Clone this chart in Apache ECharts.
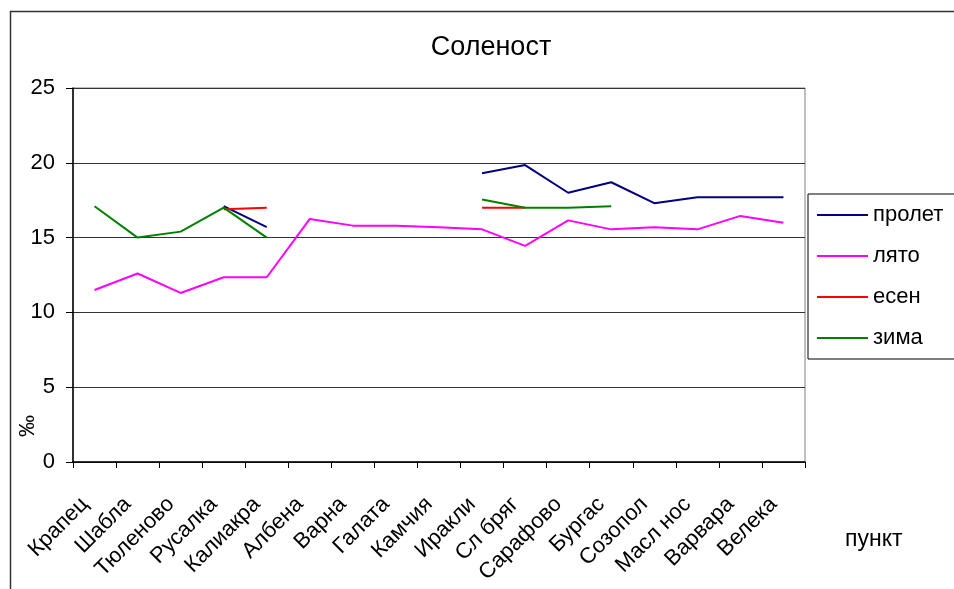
<!DOCTYPE html>
<html>
<head>
<meta charset="utf-8">
<title>Соленост</title>
<script src="https://cdn.jsdelivr.net/npm/echarts@6/dist/echarts.min.js"></script>
<style>
	html, body { margin: 0; padding: 0; background: #fff; }
	#chart { width: 954px; height: 589px; }
</style>
</head>
<body>
<div id="chart"></div>
<script>
// пунктове по брега
var places = ['Крапец', 'Шабла', 'Тюленово', 'Русалка', 'Калиакра', 'Албена', 'Варна', 'Галата', 'Камчия',
	'Иракли', 'Сл бряг', 'Сарафово', 'Бургас', 'Созопол', 'Масл нос', 'Варвара', 'Велека'];
var seasonNames = ['пролет', 'лято', 'есен', 'зима'];
var seasonColors = ['#000080', '#ff00ff', '#ff0000', '#008000'];

// соленост, ‰
var spring = [null, null, null, 17.1, 15.7, null, null, null, null, 19.3, 19.85, 18.0, 18.7, 17.3, 17.7, 17.7, 17.7];
var summer = [11.5, 12.6, 11.3, 12.35, 12.35, 16.25, 15.8, 15.8, 15.7, 15.55, 14.45, 16.15, 15.55, 15.7, 15.55, 16.45, 16.0];
var autumn = [null, null, null, 16.9, 17.0, null, null, null, null, 17.0, 17.0, null, null, null, null, null, null];
var winter = [17.1, 15.0, 15.4, 17.0, 15.0, null, null, null, null, 17.55, 17.0, 17.0, 17.1, null, null, null, null];

var yTicks = [0, 5, 10, 15, 20, 25];

var font = 'Liberation Sans, Arial, sans-serif';
var seriesData = [spring, summer, autumn, winter];

var series = seriesData.map(function (d, i) {
	return {
		name: seasonNames[i],
		type: 'line',
		data: d,
		symbol: 'none',
		connectNulls: false,
		lineStyle: { color: seasonColors[i], width: 2 },
		itemStyle: { color: seasonColors[i] }
	};
});

var option = {
	backgroundColor: '#fff',
	animation: false,
	title: {
		text: 'Соленост',
		left: 486,
		textAlign: 'center',
		top: 29,
		textStyle: { fontFamily: font, fontSize: 27, fontWeight: 'normal', color: '#000' }
	},
	legend: {
		orient: 'vertical',
		left: 808,
		top: 194,
		padding: [10, 60, 10, 9],
		itemGap: 19,
		itemWidth: 51,
		itemHeight: 2,
		icon: 'rect',
		borderColor: '#000',
		borderWidth: 1,
		data: seasonNames,
		textStyle: { fontFamily: font, fontSize: 22, color: '#000', lineHeight: 22 }
	},
	grid: {
		left: 73,
		right: 149,
		top: 88,
		bottom: 127,
		show: true,
		borderColor: '#808080',
		borderWidth: 1
	},
	xAxis: {
		type: 'category',
		data: places,
		boundaryGap: true,
		axisLine: { lineStyle: { color: '#000', width: 1.5 } },
		axisTick: { show: true, length: 6, lineStyle: { color: '#000' } },
		axisLabel: {
			rotate: 45,
			interval: 0,
			margin: 29,
			padding: [0, 14, 0, 0],
			fontFamily: font,
			fontSize: 22,
			color: '#000'
		}
	},
	yAxis: {
		type: 'value',
		min: yTicks[0],
		max: yTicks[yTicks.length - 1],
		interval: 5,
		axisLine: { show: true, lineStyle: { color: '#000', width: 1.5 } },
		axisTick: { show: true, length: 7, lineStyle: { color: '#000' } },
		axisLabel: { fontFamily: font, fontSize: 22, color: '#000', margin: 18 },
		splitLine: { show: true, lineStyle: { color: '#333', width: 1 } }
	},
	graphic: [
		{
			type: 'rect',
			left: 8,
			top: 9,
			shape: { width: 1000, height: 1000 },
			style: { fill: 'none', stroke: '#333', lineWidth: 1.5 },
			silent: true
		},
		{
			type: 'text',
			left: 17,
			top: 415,
			rotation: Math.PI / 2,
			style: { text: '‰', fontFamily: font, fontSize: 22, fill: '#000' }
		},
		{
			type: 'text',
			left: 845,
			top: 528,
			style: { text: 'пункт', fontFamily: font, fontSize: 23, fill: '#000' }
		}
	],
	series: series
};

echarts.init(document.getElementById('chart')).setOption(option);
</script>
</body>
</html>
